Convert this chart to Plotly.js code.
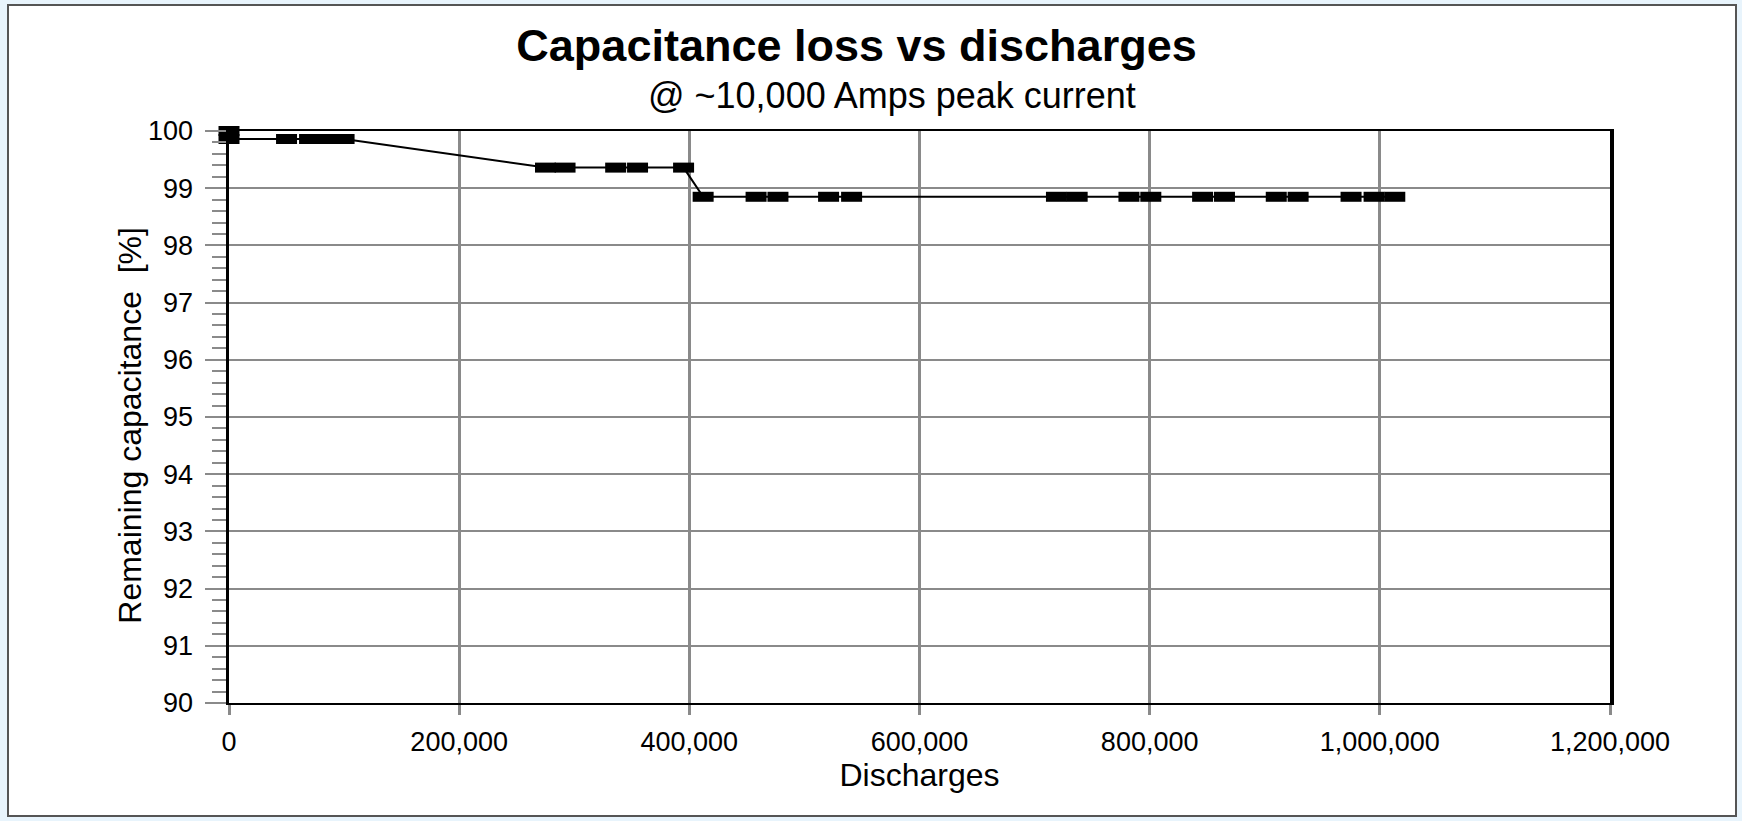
<!DOCTYPE html>
<html><head><meta charset="utf-8">
<script src="https://cdn.plot.ly/plotly-3.0.1.min.js"></script>
<style>
html,body{margin:0;padding:0;background:#e8f4fc;width:1742px;height:821px;overflow:hidden;}
#frame{position:absolute;left:7px;top:4px;width:1730px;height:813px;box-sizing:border-box;border:2px solid #555;background:#fff;}
#chart{width:1726px;height:809px;}
</style></head><body>
<div id="frame"><div id="chart"></div></div>
<script>
// Data
const discharges = [0, 0, 50000, 70000, 85000, 100000,
  275000, 292000, 336000, 355000, 395000,
  412000, 458000, 477000, 521000, 541000, 719000, 737000, 782000, 801000,
  846000, 865000, 910000, 929000, 975000, 995000, 1013000];
const capacitance = [100, 99.86, 99.86, 99.86, 99.86, 99.86,
  99.36, 99.36, 99.36, 99.36, 99.36,
  98.85, 98.85, 98.85, 98.85, 98.85, 98.85, 98.85, 98.85, 98.85,
  98.85, 98.85, 98.85, 98.85, 98.85, 98.85, 98.85];
const titleText = 'Capacitance loss vs discharges';
const subtitleText = '@ ~10,000 Amps peak current';
const xTitle = 'Discharges';
const yTitle = 'Remaining capacitance\u00A0\u00A0[%]';
const xRange = [0, 1200000];
const yRange = [90, 100];

const FONT = 'Liberation Sans, Arial, sans-serif';
const GRID = '#8a8a8a';

const trace = {
  x: discharges, y: capacitance, type: 'scatter', mode: 'lines+markers',
  line: {color: '#000', width: 2},
  marker: {symbol: 'line-ew', size: 15, color: '#000', line: {color: '#000', width: 10}},
  cliponaxis: false, showlegend: false, hoverinfo: 'x+y'
};

const layout = {
  width: 1726, height: 809,
  paper_bgcolor: '#fff', plot_bgcolor: '#fff',
  margin: {l: 220, r: 125, t: 125, b: 112},
  font: {family: FONT, color: '#000'},
  title: {text: titleText, font: {family: FONT, size: 45, weight: 'bold', color: '#000'},
    xref: 'paper', x: 0.4544, xanchor: 'center', yref: 'container', y: 0.952, yanchor: 'middle'},
  annotations: [
    {text: subtitleText, xref: 'paper', yref: 'paper', x: 0.480, y: 1.0, xanchor: 'center', yanchor: 'bottom',
     yshift: 13, showarrow: false, font: {family: FONT, size: 36, color: '#000'}},
    {text: yTitle, xref: 'paper', yref: 'paper', x: -0.0719, y: 0.486, xanchor: 'center', yanchor: 'middle',
     textangle: -90, showarrow: false, font: {family: FONT, size: 32, color: '#000'}}
  ],
  xaxis: {
    range: xRange, tickmode: 'linear', tick0: 0, dtick: 200000, tickformat: ',',
    showgrid: true, gridcolor: GRID, gridwidth: 3,
    ticks: 'outside', ticklen: 10, tickwidth: 3, tickcolor: GRID,
    showline: true, linecolor: '#000', linewidth: 2, mirror: true,
    zeroline: false, ticklabelstandoff: 4, tickfont: {family: FONT, size: 27, color: '#000'},
    title: {text: xTitle, font: {family: FONT, size: 32, color: '#000'}, standoff: 0}
  },
  yaxis: {
    range: yRange, tickmode: 'linear', tick0: 90, dtick: 1,
    showgrid: true, gridcolor: GRID, gridwidth: 2,
    ticks: 'outside', ticklen: 21, tickwidth: 2, tickcolor: GRID,
    minor: {dtick: 0.2, ticks: 'outside', ticklen: 14, tickwidth: 2, tickcolor: GRID, showgrid: false},
    showline: true, linecolor: '#000', linewidth: 3.5, mirror: true,
    zeroline: false, ticklabelstandoff: 6, tickfont: {family: FONT, size: 27, color: '#000'}
  },
  yaxis2: {
    overlaying: 'y', side: 'left', range: yRange, tickmode: 'linear', tick0: 90, dtick: 1,
    showgrid: false, showticklabels: false, ticks: '', showline: false, zeroline: false,
    minor: {dtick: 0.2, ticks: 'inside', ticklen: 15, tickwidth: 2, tickcolor: GRID, showgrid: false}
  }
};

Plotly.newPlot('chart', [trace], layout, {displayModeBar: false, staticPlot: true});
</script>
</body></html>
